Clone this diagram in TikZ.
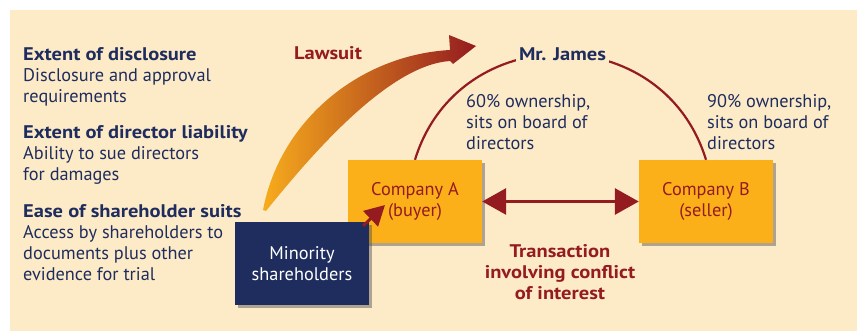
\documentclass[tikz,border=0pt]{standalone}
\usepackage{fontspec}
\setmainfont{PT Sans}[BoldFeatures={FakeStretch=1.12}]
\usetikzlibrary{arrows.meta}
\usetikzlibrary{shadows}
\usetikzlibrary{calc}

\definecolor{paper}{RGB}{253,235,200}
\definecolor{navy}{RGB}{31,45,94}
\definecolor{darkred}{RGB}{148,27,32}
\definecolor{boxorange}{RGB}{251,176,26}
\definecolor{laworange}{RGB}{247,172,28}

\tikzset{
    boxshadow/.style={drop shadow={shadow xshift=3pt, shadow yshift=-3pt, opacity=0.45, fill=black!70}},
    company/.style={fill=boxorange, text=darkred, align=center, minimum width=134pt, minimum height=83pt, boxshadow},
    minority/.style={fill=navy, text=white, align=center, minimum width=134pt, minimum height=83pt, boxshadow},
    criterion/.style={text=navy, align=left, anchor=north west, inner sep=0pt},
    remark/.style={text=navy, align=left, anchor=north west, inner sep=0pt},
    ownerline/.style={darkred, line width=2.2pt},
    dealarrow/.style={darkred, line width=3pt, {Triangle[length=24pt,width=26pt]}-{Triangle[length=24pt,width=26pt]}},
    suitarrow/.style={darkred, line width=3pt, -{Triangle[length=20pt,width=21pt]}}
}

\begin{document}
\begin{tikzpicture}[x=1pt, y=-1pt, font=\fontsize{18.3}{21}\selectfont]
    \useasboundingbox (0,0) rectangle (857,331);
    \fill[paper] (10,10) rectangle (857,331);

    % Criteria on the left
    \node[criterion] (disclosure) at (23,46.8) {\textbf{Extent of disclosure}\\Disclosure and approval\\requirements};
    \node[criterion] (liability) at (23,124.8) {\textbf{Extent of director liability}\\Ability to sue directors\\for damages};
    \node[criterion] (suits) at (23,203.8) {\textbf{Ease of shareholder suits}\\Access by shareholders to\\documents plus other\\evidence for trial};

    % Lawsuit arrow
    \shade[left color=laworange, right color=darkred]
        (263,210) .. controls (280,120) and (360,55) .. (450,50)
        -- (449,35) -- (476,46) -- (453,64) -- (450,61)
        .. controls (390,65) and (315,150) .. (266,211) -- cycle;
    \node[text=darkred, font=\fontsize{18.3}{21}\selectfont\bfseries] (lawsuit) at (328,53) {Lawsuit};

    % Companies
    \node[company] (buyer) at (415,201.5) {Company A\\(buyer)};
    \node[company] (seller) at (706,201.5) {Company B\\(seller)};
    \node[minority] (minority) at (302,263.5) {Minority\\shareholders};
    \coordinate (hit) at (385,205);
    \draw[suitarrow] ($(minority.north east)+(-6,4)$) -- (hit);

    % Mr. James and his stakes
    \draw[ownerline] (buyer.north) to[out=73, in=107, looseness=1.3] (seller.north);
    \node[fill=paper, text=navy, inner sep=3pt, font=\fontsize{18.3}{21}\selectfont\bfseries] (james) at (562.5,54) {Mr. James};
    \node[remark] (stakeA) at (466,93.8) {60\% ownership,\\sits on board of\\directors};
    \node[remark] (stakeB) at (707,93.8) {90\% ownership,\\sits on board of\\directors};

    % Transaction
    \draw[dealarrow] (buyer.east) -- (seller.west);
    \node[text=darkred, align=center, font=\fontsize{18.3}{21}\selectfont\bfseries] (deal) at (560,272) {Transaction\\involving conflict\\of interest};
\end{tikzpicture}
\end{document}
